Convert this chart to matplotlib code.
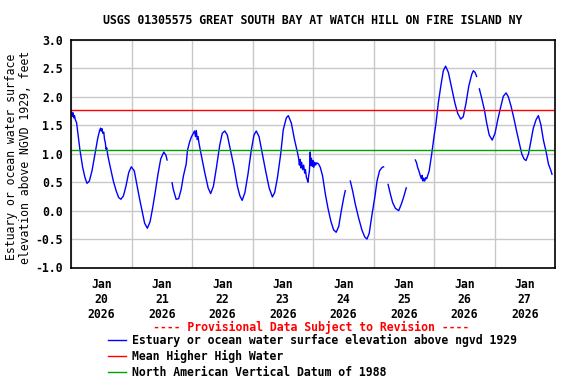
import numpy as np
import pandas as pd
import matplotlib
matplotlib.use('Agg')
import matplotlib.pyplot as plt
import matplotlib.dates as mdates
from matplotlib.ticker import NullFormatter

# hours after 2026-01-20 00:00 and water level (ft above NGVD 1929), nan = gap
hours = [0.2, 0.5, 0.8, 1.1, 1.4, 1.7, 2.2, 2.65, 3.57, 4.63, 5.55, 6.35, 7.28, 8.33, 9.52,
         10.6, 11.3, 11.7, 12.0, 12.3, 12.6, 13.0, 13.3, 13.6, 13.9, 14.2, 14.6, 15.6, 16.8,
         17.9, 18.9, 19.8, 20.8, 21.8, 22.9, 23.9, 25.1, 26.1, 27.1, 28.2, 29.2, 30.3, 31.4,
         32.4, 33.5, 34.5, 35.6, 36.8, 37.7, 38.1,
         39.0,
         40.1, 40.6, 41.7, 42.7, 43.7, 44.6, 45.7, 46.2, 47.0, 47.7, 48.5, 49.0, 49.4, 49.7,
         50.1, 50.4, 50.8, 52.1, 53.2, 54.4, 55.4, 56.5, 57.7, 59.0, 60.0, 61.0, 62.0, 63.3,
         64.7, 66.0, 67.0, 67.9, 69.0, 70.2, 71.5, 72.6, 73.5, 74.6, 75.9, 77.2, 78.6, 79.9,
         80.8, 81.9, 83.2, 84.2, 85.4, 86.2, 87.4, 88.7, 89.8, 90.3, 90.6, 90.9, 91.2, 91.5,
         91.9, 92.3, 92.7, 93.0, 93.4, 93.7, 94.0, 94.3, 94.6, 94.9, 95.1, 95.4, 95.7, 96.0,
         96.3, 96.7, 97.0, 97.5, 98.2, 98.9, 99.8, 100.9, 101.9, 103.1, 104.2, 105.2, 106.2,
         107.2, 108.2, 108.8,
         109.8,
         110.8, 111.7, 112.8, 114.1, 115.4, 116.5, 117.4, 118.3, 119.4, 120.5, 121.4, 122.4,
         123.4, 124.0,
         125.0,
         125.8, 126.7, 127.6, 128.7, 130.0, 131.0, 131.9, 133.0,
         135.0,
         136.6, 137.1, 137.5, 138.0, 138.6, 139.0, 139.3, 139.6, 139.9, 140.3, 140.7, 141.1,
         141.6, 142.1, 143.1, 144.0, 144.8, 145.7, 146.7, 147.7, 148.6, 149.7, 151.0, 152.3,
         153.4, 154.6, 155.6, 156.7, 157.8, 159.0, 159.6, 160.3, 160.9,
         161.5,
         162.0, 162.9, 164.0, 164.9, 165.9, 167.1, 168.2, 169.3, 170.5, 171.5, 172.6, 173.5,
         174.6, 175.8, 176.8, 177.9, 178.8, 179.7, 180.5, 181.5, 182.5, 183.4, 184.5, 185.4,
         186.4, 187.4, 188.5, 189.4, 190.4, 190.8]
level = [1.74, 1.66, 1.72, 1.63, 1.67, 1.60, 1.55, 1.39, 1.06, 0.76, 0.58, 0.48, 0.52, 0.70, 1.00,
         1.27, 1.40, 1.45, 1.40, 1.44, 1.36, 1.38, 1.25, 1.20, 1.08, 1.10, 0.97, 0.76, 0.52,
         0.35, 0.23, 0.20, 0.26, 0.43, 0.67, 0.77, 0.70, 0.46, 0.23, -0.01, -0.22, -0.31, -0.19,
         0.05, 0.35, 0.64, 0.91, 1.03, 0.97, 0.89,
         np.nan,
         0.49, 0.37, 0.20, 0.21, 0.37, 0.61, 0.82, 1.06, 1.20, 1.29, 1.36, 1.40, 1.30, 1.41,
         1.25, 1.30, 1.18, 0.88, 0.64, 0.40, 0.30, 0.43, 0.76, 1.15, 1.36, 1.40, 1.33, 1.06,
         0.76, 0.43, 0.26, 0.18, 0.32, 0.64, 1.06, 1.33, 1.40, 1.30, 1.00, 0.70, 0.40, 0.24,
         0.32, 0.58, 1.00, 1.42, 1.63, 1.67, 1.54, 1.24, 1.03, 0.92, 0.80, 0.90, 0.75, 0.85,
         0.72, 0.80, 0.66, 0.72, 0.58, 0.55, 0.50, 0.62, 0.70, 1.03, 0.80, 0.92, 0.78, 0.88,
         0.76, 0.85, 0.80, 0.84, 0.82, 0.76, 0.61, 0.29, 0.05, -0.19, -0.34, -0.38, -0.28,
         -0.01, 0.23, 0.35,
         np.nan,
         0.52, 0.35, 0.11, -0.13, -0.34, -0.46, -0.50, -0.40, -0.07, 0.23, 0.52, 0.70,
         0.76, 0.77,
         np.nan,
         0.46, 0.29, 0.14, 0.04, 0.00, 0.11, 0.23, 0.40,
         np.nan,
         0.89, 0.84, 0.76, 0.70, 0.61, 0.56, 0.62, 0.52, 0.57, 0.52, 0.58, 0.56,
         0.63, 0.70, 1.00, 1.30, 1.54, 1.89, 2.19, 2.46, 2.54, 2.43, 2.16, 1.89,
         1.71, 1.61, 1.65, 1.89, 2.19, 2.40, 2.46, 2.43, 2.36,
         np.nan,
         2.14, 1.98, 1.77, 1.54, 1.33, 1.24, 1.36, 1.60, 1.83, 2.01, 2.07, 2.00,
         1.83, 1.60, 1.39, 1.18, 1.00, 0.91, 0.88, 1.00, 1.24, 1.45, 1.60, 1.67,
         1.51, 1.24, 1.03, 0.82, 0.70, 0.64]

mhhw = 1.77
navd88 = 1.06
start = pd.Timestamp('2026-01-20')

title = 'USGS 01305575 GREAT SOUTH BAY AT WATCH HILL ON FIRE ISLAND NY'
series_names = ['Estuary or ocean water surface elevation above ngvd 1929',
                'Mean Higher High Water',
                'North American Vertical Datum of 1988']

plt.rcParams['font.family'] = ['DejaVu Sans Mono']
plt.rcParams['font.weight'] = 'bold'
plt.rcParams['font.size'] = 8.3

times = start + pd.to_timedelta(hours, unit='h')

fig = plt.figure(figsize=(5.76, 3.84), dpi=100)
ax = fig.add_axes([71/576, 1-267.5/384, 484/576, 227.5/384])

l1, = ax.plot(times, level, color='#0000ff', lw=1.0)
l2 = ax.axhline(mhhw, color='#ff0000', lw=1.0)
l3 = ax.axhline(navd88, color='#00a000', lw=1.0)

ax.set_xlim(start, start + pd.Timedelta(days=8))
ax.set_ylim(-1.0, 3.0)
ax.set_yticks(np.arange(-1.0, 3.01, 0.5))
ax.yaxis.set_major_formatter(plt.FormatStrFormatter('%.1f'))

ax.xaxis.set_major_locator(mdates.DayLocator())
ax.xaxis.set_major_formatter(NullFormatter())
ax.xaxis.set_minor_locator(mdates.HourLocator(byhour=12))
ax.xaxis.set_minor_formatter(mdates.DateFormatter('%b\n%d\n%Y'))
ax.tick_params(which='both', length=0)
ax.tick_params(axis='y', pad=6)
ax.tick_params(axis='x', which='minor', pad=7.5)
for lab in ax.xaxis.get_minorticklabels():
    lab.set_linespacing(1.2)

ax.grid(True, which='major', color='#c8c8c8', lw=1.0)
ax.set_axisbelow(True)
for s in ax.spines.values():
    s.set_linewidth(1.2)

ax.set_ylabel('Estuary or ocean water surface\nelevation above NGVD 1929, feet',
              va='center', linespacing=1.05)
ax.yaxis.set_label_coords((18.3-71)/484, (267.5-157)/227.5)

fig.text(313/576, 1-20/384, title, ha='center', va='center')
fig.text(311/576, 1-327.3/384, '---- Provisional Data Subject to Revision ----',
         color='#ff0000', ha='center', va='center')

fig.legend([l1, l2, l3], series_names, loc='upper left',
           bbox_to_anchor=(108.3/576, 1-334/384), frameon=False,
           handlelength=1.55, handletextpad=0.5, labelspacing=0.25,
           borderpad=0, borderaxespad=0)

fig.savefig('out.png', dpi=100)
